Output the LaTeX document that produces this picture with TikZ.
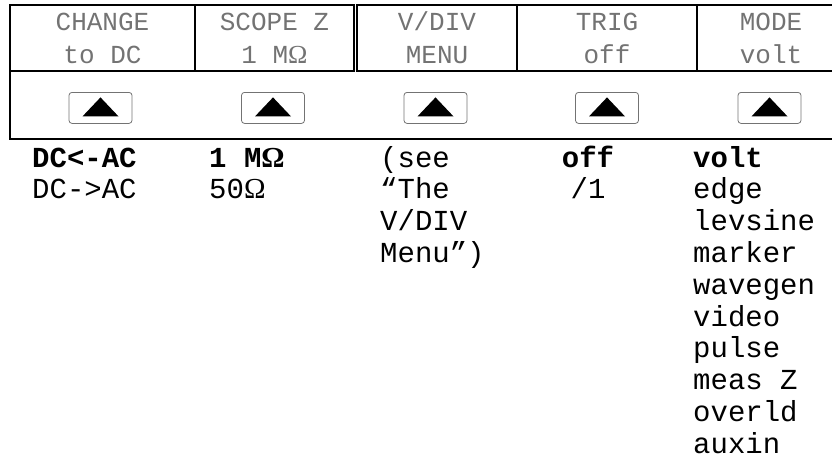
\documentclass[tikz,border=0pt]{standalone}
\usepackage{fontspec}
\setmonofont{Liberation Mono}
\newfontfamily\omfont{Liberation Serif}
\usetikzlibrary{positioning}

\newcommand{\ohmsym}{{\omfont Ω}}
\newcommand{\lcdfont}{\fontsize{26}{33}\selectfont\ttfamily}
\newcommand{\optfont}{\fontsize{29}{31.8}\selectfont\ttfamily}

\begin{document}
\begin{tikzpicture}[
  x=1pt, y=-1pt,
  cell/.style={draw, line width=2.2pt, outer sep=0pt, inner sep=0pt, minimum height=66pt,
    align=center, font=\lcdfont, text=black!55},
  key/.style={draw=black!55, line width=0.8pt, rounded corners=3pt, minimum width=63pt,
    minimum height=31pt, inner sep=0pt},
  opts/.style={anchor=base west, inner sep=0pt, align=left, font=\optfont},
  frame/.style={line width=2.2pt}
]
\useasboundingbox (0,0) rectangle (832,460);

% softkey labels
\node[cell, minimum width=185pt] (c1) at (102.5,38) {CHANGE\\to DC};
\node[cell, minimum width=159pt, right=0pt of c1] (c2) {SCOPE Z\\1 M\ohmsym};
\node[cell, minimum width=160pt, right=3pt of c2] (c3) {V/DIV\\MENU};
\node[cell, minimum width=180pt, right=0pt of c3] (c4) {TRIG\\off};
\node[cell, minimum width=148pt, right=0pt of c4] (c5) {MODE\\volt};

% keys
\node[key, below=21pt of c1.south, xshift=-2pt] (k1) {};
\node[key, below=21pt of c2.south, xshift=-1.5pt] (k2) {};
\node[key, below=21pt of c3.south, xshift=-1.5pt] (k3) {};
\node[key, below=21pt of c4.south] (k4) {};
\node[key, below=21pt of c5.south, xshift=-1.5pt] (k5) {};
\foreach \k in {k1,k2,k3,k4,k5}
  \fill ([shift={(-18,8.5)}]\k.center) -- ++(36,0) -- ++(-18,-19) -- cycle;

% frame round the keys
\coordinate (fbl) at (10,139);
\coordinate (fbr) at (850,139);
\draw[frame] (c1.south west) -- (fbl) -- (fbr);

% choices (base = last line)
\node[opts] (o1) at (32,198.8) {\textbf{DC<-AC}\\DC->AC};
\node[opts] (o2) at (209,198.8) {\textbf{1 M\ohmsym}\\50\ohmsym};
\node[opts] (o3) at (380,262.4) {(see\\“The\\V/DIV\\Menu”)};
\node[opts, anchor=base, align=center] (o4) at (588,198.8) {\textbf{off}\\/1};
\node[opts] (o5) at (693,453.2) {\textbf{volt}\\edge\\levsine\\marker\\wavegen\\video\\pulse\\meas Z\\overld\\auxin};
\end{tikzpicture}
\end{document}
